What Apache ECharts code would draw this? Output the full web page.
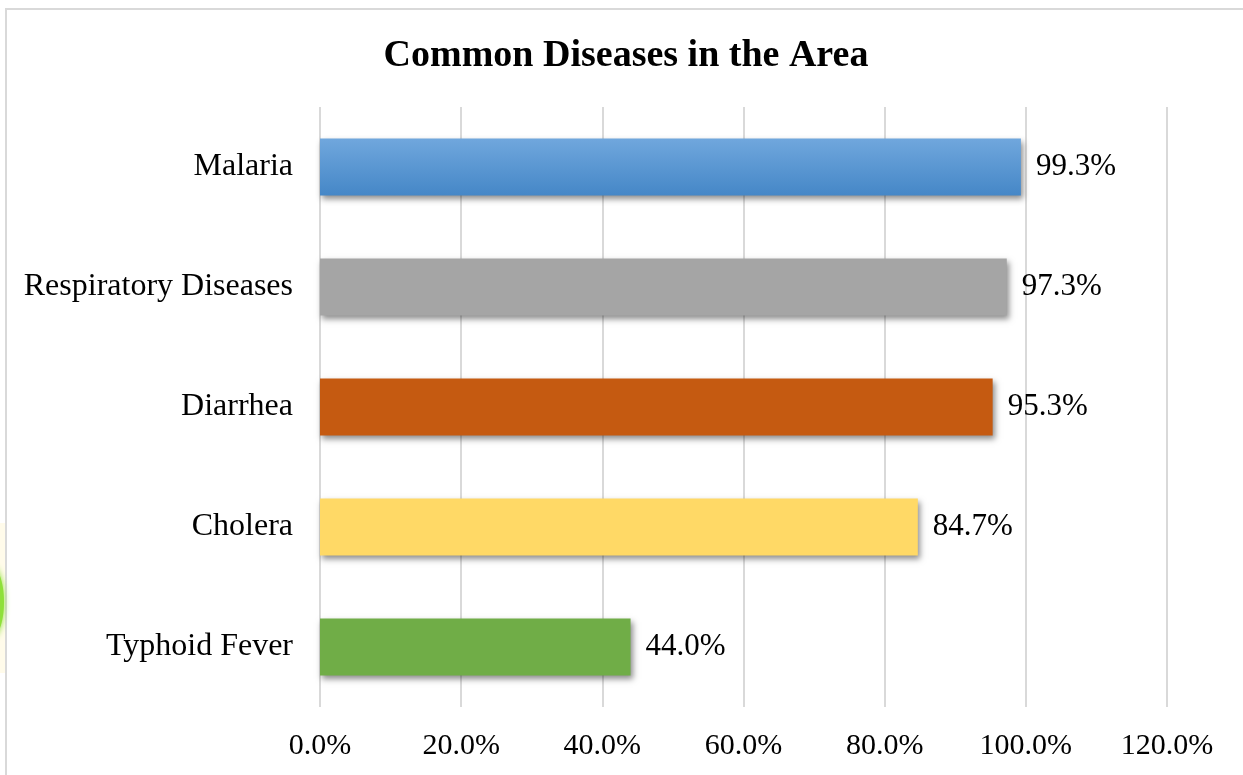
<!DOCTYPE html>
<html>
<head>
<meta charset="utf-8">
<script src="https://cdn.jsdelivr.net/npm/echarts@6/dist/echarts.min.js"></script>
<style>
html,body{margin:0;padding:0;background:#fff;}
#chart{width:1243px;height:775px;}
</style>
</head>
<body>
<div id="chart"></div>
<script>
var titleText = 'Common Diseases in the Area';
var categories = ['Malaria', 'Respiratory Diseases', 'Diarrhea', 'Cholera', 'Typhoid Fever'];
var values = [99.3, 97.3, 95.3, 84.7, 44.0];
var barColors = ['#5B9BD5', '#A5A5A5', '#C55A11', '#FFD966', '#70AD47'];
var axisMin = 0, axisMax = 120, axisStep = 20;

var FONT = '"Liberation Serif", "Times New Roman", serif';

var dataItems = values.map(function (v, i) {
  var color = barColors[i];
  if (i === 0) {
    color = new echarts.graphic.LinearGradient(0, 0, 0, 1, [
      { offset: 0, color: '#70A7DD' },
      { offset: 1, color: '#4587C7' }
    ]);
  }
  return { value: v, itemStyle: { color: color } };
});

var chart = echarts.init(document.getElementById('chart'));
chart.setOption({
  backgroundColor: '#ffffff',
  animation: false,
  title: {
    text: titleText,
    left: 621,
    textAlign: 'center',
    top: 32,
    textStyle: { fontFamily: FONT, fontSize: 38, fontWeight: 'bold', color: '#000' }
  },
  graphic: [
    { type: 'rect', shape: { x: 6, y: 9, width: 1400, height: 900 }, style: { fill: null, stroke: '#D9D9D9', lineWidth: 2 }, z: -10 },
    { type: 'rect', shape: { x: 0, y: 523, width: 5, height: 150 }, style: { fill: '#FFFBEA' }, z: -9 },
    { type: 'ellipse', shape: { cx: -9, cy: 602, rx: 13, ry: 36 }, style: { fill: '#8EE03A', shadowBlur: 6, shadowColor: '#8EE03A' }, z: -8 }
  ],
  grid: { left: 320, top: 107, width: 847, height: 600, containLabel: false },
  xAxis: {
    type: 'value',
    min: axisMin,
    max: axisMax,
    interval: axisStep,
    axisLine: { show: false },
    axisTick: { show: false },
    splitLine: { show: true, lineStyle: { color: '#D9D9D9', width: 2 } },
    axisLabel: {
      margin: 24,
      fontFamily: FONT,
      fontSize: 30,
      color: '#000',
      formatter: function (v) { return v.toFixed(1) + '%'; }
    }
  },
  yAxis: {
    type: 'category',
    data: categories,
    inverse: true,
    axisLine: { show: false },
    axisTick: { show: false },
    splitLine: { show: false },
    axisLabel: { margin: 27, fontFamily: FONT, fontSize: 32, color: '#000' }
  },
  series: [{
    type: 'bar',
    data: dataItems,
    barWidth: 57,
    itemStyle: {
      shadowColor: 'rgba(0,0,0,0.45)',
      shadowBlur: 6,
      shadowOffsetX: 2,
      shadowOffsetY: 3
    },
    label: {
      show: true,
      position: 'right',
      distance: 15,
      fontFamily: FONT,
      fontSize: 31,
      color: '#000',
      formatter: function (p) { return p.value.toFixed(1) + '%'; }
    }
  }]
});
</script>
</body>
</html>
